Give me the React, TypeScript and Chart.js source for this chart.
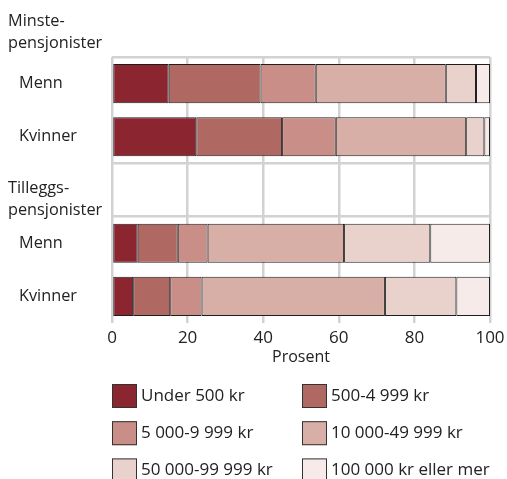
import React, { useEffect, useRef } from "react";
import { Chart, registerables } from "chart.js";

Chart.register(...registerables);

// ---- Data ----
const rowLabels = ["Menn", "Kvinner", "", "Menn", "Kvinner"];
const headerMinste = ["Minste-", "pensjonister"];
const headerTillegg = ["Tilleggs-", "pensjonister"];
const seriesNames = [
  "Under 500 kr",
  "500-4 999 kr",
  "5 000-9 999 kr",
  "10 000-49 999 kr",
  "50 000-99 999 kr",
  "100 000 kr eller mer",
];
const under500 = [15.0, 22.3, null, 6.8, 5.6];
const s500to4999 = [24.3, 22.7, null, 10.6, 9.8];
const s5000to9999 = [14.6, 14.2, null, 7.9, 8.3];
const s10000to49999 = [34.4, 34.5, null, 36.1, 48.5];
const s50000to99999 = [8.0, 4.8, null, 22.8, 18.9];
const s100000plus = [3.7, 1.5, null, 15.8, 8.9];
const seriesValues = [under500, s500to4999, s5000to9999, s10000to49999, s50000to99999, s100000plus];
const colors = ["#8B2630", "#B06962", "#C98E87", "#D8AFA7", "#E9D2CC", "#F6EBE8"];
const xTitle = "Prosent";

const FONT = '"Open Sans", "Noto Sans", sans-serif';
const TEXT = "#222222";
const GRID = "#d2d2d2";
const W = 505;
const H = 471;

const sidePlugin = {
  id: "sideLabelsAndLegend",
  afterDraw(chart: any) {
    const ctx = chart.ctx;
    const y = chart.scales.y;
    const area = chart.chartArea;
    ctx.save();
    ctx.font = `16.3px ${FONT}`;
    ctx.fillStyle = TEXT;
    ctx.textBaseline = "middle";
    ctx.textAlign = "left";
    rowLabels.forEach((l, i) => {
      if (l) ctx.fillText(l, 11, y.getPixelForValue(i));
    });
    ctx.fillText(headerMinste[0], 0, area.top - 36);
    ctx.fillText(headerMinste[1], 0, area.top - 14);
    const c2 = y.getPixelForValue(2);
    ctx.fillText(headerTillegg[0], 0, c2 - 2);
    ctx.fillText(headerTillegg[1], 0, c2 + 20);

    // legend
    ctx.font = `17px ${FONT}`;
    const colX = [area.left, area.left + 190];
    const top0 = 376;
    const rowGap = 37.2;
    seriesNames.forEach((name, i) => {
      const col = i % 2;
      const row = Math.floor(i / 2);
      const bx = colX[col];
      const by = top0 + row * rowGap;
      ctx.fillStyle = colors[i];
      ctx.fillRect(bx, by, 25, 24);
      ctx.strokeStyle = "#333";
      ctx.lineWidth = 1;
      ctx.strokeRect(bx + 0.5, by + 0.5, 24, 23);
      ctx.fillStyle = TEXT;
      ctx.fillText(name, bx + 29, by + 12);
    });
    ctx.restore();
  },
};

export default function App() {
  const ref = useRef<HTMLCanvasElement | null>(null);
  useEffect(() => {
    if (!ref.current) return;
    Chart.defaults.font.family = FONT;
    Chart.defaults.font.size = 16;
    Chart.defaults.color = TEXT;
    const chart = new Chart(ref.current, {
      type: "bar",
      data: {
        labels: rowLabels,
        datasets: seriesNames.map((name, i) => ({
          label: name,
          data: seriesValues[i] as any,
          backgroundColor: colors[i],
          borderColor: "#1e1e1e",
          borderWidth: 1,
          borderSkipped: false,
          barPercentage: 0.735,
          categoryPercentage: 1,
        })),
      },
      options: {
        indexAxis: "y",
        responsive: false,
        maintainAspectRatio: false,
        devicePixelRatio: 1,
        animation: false,
        layout: { padding: { left: 104, right: W - 482, top: 49, bottom: 106 } },
        plugins: {
          legend: { display: false },
          tooltip: { enabled: false },
        },
        scales: {
          x: {
            type: "linear",
            stacked: true,
            min: 0,
            max: 100,
            ticks: { stepSize: 20, color: TEXT, padding: 5, font: { size: 17 } },
            grid: { color: GRID, lineWidth: 2.5, drawTicks: false },
            border: { display: false },
            title: {
              display: true,
              text: xTitle,
              color: TEXT,
              font: { size: 16 },
              padding: { top: 0, bottom: 6 },
            },
            afterFit: (scale: any) => {
              scale.height = 50;
            },
          },
          y: {
            type: "category",
            stacked: true,
            ticks: { display: false },
            grid: {
              offset: true,
              drawTicks: false,
              lineWidth: 2.5,
              color: (c: any) => ([0, 2, 3, 5].includes(c.index) ? GRID : "rgba(0,0,0,0)"),
            },
            border: { display: false },
            afterFit: (scale: any) => {
              scale.width = 0;
            },
          },
        },
      },
      plugins: [sidePlugin],
    });
    return () => chart.destroy();
  }, []);
  return (
    <div style={{ position: "fixed", left: 8, top: 8, width: W, height: H }}>
      <canvas ref={ref} width={W} height={H} style={{ display: "block", width: W, height: H }} />
    </div>
  );
}
